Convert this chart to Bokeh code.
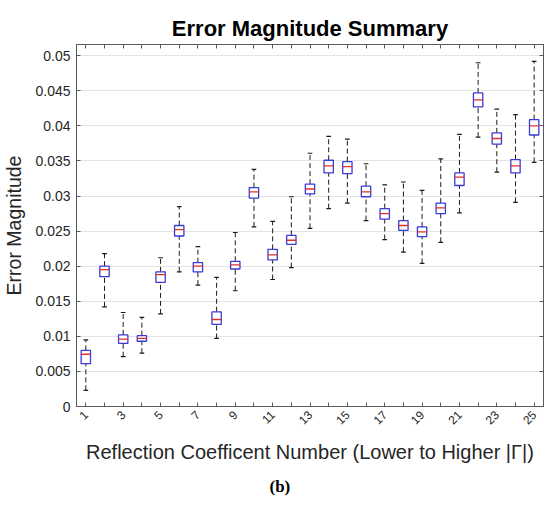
import math
from bokeh.plotting import figure
from bokeh.models import (ColumnDataSource, FixedTicker, LinearAxis, Title, Range1d)
from bokeh.embed import file_html
from bokeh.resources import INLINE

# ---- data ----
coef = list(range(1, 26))
lower_whisker = [0.0023, 0.0142, 0.0071, 0.0076, 0.0132, 0.0192, 0.0173, 0.0097, 0.0165, 0.0256,
                 0.0181, 0.0198, 0.0254, 0.0282, 0.0290, 0.0265, 0.0238, 0.0220, 0.0204, 0.0234,
                 0.0276, 0.0384, 0.0334, 0.0291, 0.0348]
q1 = [0.0061, 0.0185, 0.0090, 0.0093, 0.0177, 0.0243, 0.0192, 0.0117, 0.0196, 0.0297,
      0.0209, 0.0231, 0.0303, 0.0333, 0.0332, 0.0299, 0.0267, 0.0251, 0.0242, 0.0275,
      0.0315, 0.0427, 0.0374, 0.0333, 0.0387]
median = [0.00745, 0.0195, 0.0096, 0.0097, 0.0188, 0.0252, 0.0200, 0.0124, 0.0202, 0.0306,
          0.0216, 0.0237, 0.0310, 0.0343, 0.0342, 0.0306, 0.0275, 0.0258, 0.0249, 0.0283,
          0.0327, 0.0437, 0.0382, 0.0343, 0.0400]
q3 = [0.0080, 0.0200, 0.0102, 0.0101, 0.0192, 0.0258, 0.0205, 0.0135, 0.0207, 0.0312,
      0.0224, 0.0244, 0.0317, 0.0351, 0.0349, 0.0314, 0.0282, 0.0265, 0.0256, 0.0290,
      0.0333, 0.0447, 0.0390, 0.0352, 0.0409]
upper_whisker = [0.0095, 0.0218, 0.0134, 0.0127, 0.0212, 0.0285, 0.0228, 0.0184, 0.0248, 0.0338,
                 0.0264, 0.0299, 0.0361, 0.0385, 0.0381, 0.0346, 0.0316, 0.0320, 0.0308, 0.0353,
                 0.0388, 0.0490, 0.0424, 0.0416, 0.0492]

y_ticks = [0, 0.005, 0.01, 0.015, 0.02, 0.025, 0.03, 0.035, 0.04, 0.045, 0.05]
y_tick_labels = ["0", "0.005", "0.01", "0.015", "0.02", "0.025", "0.03", "0.035", "0.04", "0.045", "0.05"]
x_label_ticks = [c for c in coef if c % 2 == 1]
x_plain_ticks = [c for c in coef if c % 2 == 0]
x_tick_labels = [str(c) for c in x_label_ticks]

title_text = "Error Magnitude Summary"
x_label = "Reflection Coefficent Number (Lower to Higher |Γ|)"
y_label = "Error Magnitude"
panel_tag = "(b)"

# ---- styles ----
FONT = "Liberation Sans"
BOX_W = 0.5
CAP_W = 0.25
BLUE = "#3a3ad6"
RED = "#e0302c"
BLACK = "#1a1a1a"
AXIS = "#5a5a5a"
TXT = "#262626"

src = ColumnDataSource(dict(
    x=coef, lw=lower_whisker, q1=q1, med=median, q3=q3, uw=upper_whisker,
    xl=[c - BOX_W / 2 for c in coef], xr=[c + BOX_W / 2 for c in coef],
    cl=[c - CAP_W / 2 for c in coef], cr=[c + CAP_W / 2 for c in coef],
))

p = figure(width=550, height=505, output_backend="svg", toolbar_location=None,
           x_range=Range1d(0.5, 25.5), y_range=Range1d(0, 0.0516),
           min_border_left=74, min_border_top=44, min_border_bottom=99, min_border_right=7)

# whiskers (dashed)
p.segment(x0="x", y0="q3", x1="x", y1="uw", source=src, line_color=BLACK, line_width=1,
          line_dash="5 3")
p.segment(x0="x", y0="lw", x1="x", y1="q1", source=src, line_color=BLACK, line_width=1,
          line_dash="5 3")
# caps
p.segment(x0="cl", y0="uw", x1="cr", y1="uw", source=src, line_color=BLACK, line_width=1.2)
p.segment(x0="cl", y0="lw", x1="cr", y1="lw", source=src, line_color=BLACK, line_width=1.2)
# boxes
p.vbar(x="x", width=BOX_W, bottom="q1", top="q3", source=src, fill_color="white",
       line_color=BLUE, line_width=1.3)
# medians
p.segment(x0="xl", y0="med", x1="xr", y1="med", source=src, line_color=RED, line_width=1.3)

# ---- axes ----
p.xaxis.ticker = FixedTicker(ticks=x_label_ticks, minor_ticks=x_plain_ticks)
p.xaxis.major_label_overrides = {t: lab for t, lab in zip(x_label_ticks, x_tick_labels)}
p.xaxis.major_label_orientation = math.pi / 4
p.yaxis.ticker = FixedTicker(ticks=y_ticks)
p.yaxis.major_label_overrides = {t: lab for t, lab in zip(y_ticks, y_tick_labels)}

for ax in (p.xaxis[0], p.yaxis[0]):
    ax.axis_line_color = AXIS
    ax.major_tick_line_color = AXIS
    ax.major_tick_in = 4
    ax.major_tick_out = 0
    ax.minor_tick_line_color = AXIS
    ax.minor_tick_in = 4
    ax.minor_tick_out = 0
    ax.major_label_text_font = FONT
    ax.major_label_text_color = TXT
    ax.axis_label_text_font = FONT
    ax.axis_label_text_font_style = "normal"
    ax.axis_label_text_color = TXT

p.xaxis.major_label_text_font_size = "12px"
p.xaxis.major_label_standoff = 6
p.xaxis.axis_label = x_label
p.xaxis.axis_label_text_font_size = "20px"
p.xaxis.axis_label_standoff = 10
p.yaxis.major_label_text_font_size = "14px"
p.yaxis.major_label_standoff = 6
p.yaxis.axis_label = y_label
p.yaxis.axis_label_text_font_size = "19.5px"
p.yaxis.axis_label_standoff = 7

top_ax = LinearAxis(ticker=FixedTicker(ticks=[], minor_ticks=coef),
                    major_tick_in=0, major_tick_out=0,
                    minor_tick_in=4, minor_tick_out=0, minor_tick_line_color=AXIS,
                    axis_line_color=AXIS, major_label_standoff=0, axis_label_standoff=0)
right_ax = LinearAxis(ticker=FixedTicker(ticks=[], minor_ticks=y_ticks),
                      major_tick_in=0, major_tick_out=0,
                      minor_tick_in=4, minor_tick_out=0, minor_tick_line_color=AXIS,
                      axis_line_color=AXIS, major_label_standoff=0, axis_label_standoff=0)
p.add_layout(top_ax, "above")
p.add_layout(right_ax, "right")

# ---- grid ----
p.xgrid.grid_line_color = None
p.ygrid.ticker = FixedTicker(ticks=y_ticks)
p.ygrid.grid_line_color = "#e4e4e4"
p.ygrid.grid_line_width = 1
p.outline_line_color = AXIS

# ---- titles ----
p.title.text = title_text
p.title.align = "center"
p.title.text_font = FONT
p.title.text_font_size = "22px"
p.title.text_font_style = "bold"
p.title.text_color = "black"
p.title.standoff = 8

p.add_layout(Title(text=panel_tag, align="left", text_font="Liberation Serif",
                   text_font_size="17px", text_font_style="bold", text_color="black",
                   standoff=17, offset=193), "below")

p.background_fill_color = "white"
p.border_fill_color = "white"

open("out.html", "w").write(file_html(p, INLINE))
